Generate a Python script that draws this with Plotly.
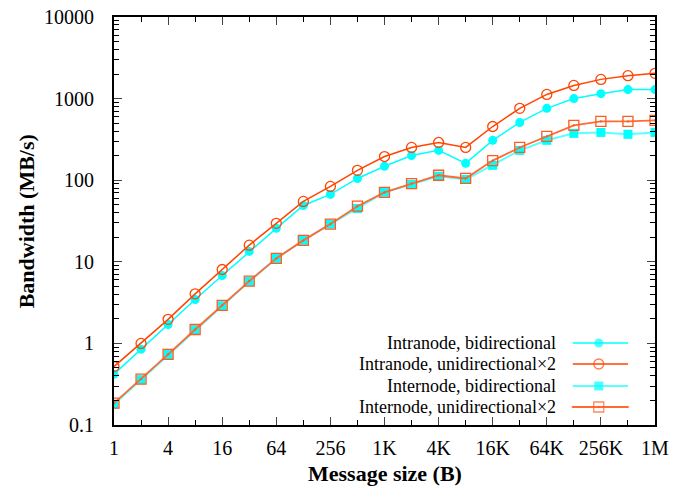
import plotly.graph_objects as go

# ---- data ----
sizes = [2 ** k for k in range(21)]
size_labels = ["1", "4", "16", "64", "256", "1K", "4K", "16K", "64K", "256K", "1M"]
label_sizes = [4 ** k for k in range(11)]

intra_bi = [0.42, 0.85, 1.7, 3.45, 6.8, 13.4, 25.7, 49, 67, 105, 148, 201, 232, 161,
            308, 510, 760, 1000, 1150, 1290, 1290]
intra_uni2 = [0.52, 1.0, 1.97, 4.05, 8.05, 16, 29.6, 55, 84, 132, 195, 252, 290, 252,
              455, 760, 1125, 1450, 1720, 1910, 2040]
inter_bi = [0.18, 0.36, 0.73, 1.47, 2.9, 5.75, 11, 18.3, 29, 45, 71, 89, 112, 102,
            152, 232, 308, 375, 385, 365, 385]
inter_uni2 = [0.185, 0.365, 0.735, 1.48, 2.92, 5.8, 11, 18.3, 29, 48, 71, 91, 115, 105,
              174, 252, 345, 470, 525, 525, 540]

names = ["Intranode, bidirectional", "Intranode, unidirectional\u00d72",
         "Internode, bidirectional", "Internode, unidirectional\u00d72"]
series = [intra_bi, intra_uni2, inter_bi, inter_uni2]

y_major = [0.1, 1, 10, 100, 1000, 10000]
y_major_text = ["0.1", "1", "10", "100", "1000", "10000"]

# ---- styles ----
styles = [
    dict(line=dict(color="#00FFFF", width=1.5),
         marker=dict(symbol="circle", size=9, color="#00FFFF")),
    dict(line=dict(color="#FF4500", width=1.5),
         marker=dict(symbol="circle-open", size=10, color="#FF4500", line=dict(width=1.3))),
    dict(line=dict(color="#5CFFFF", width=2),
         marker=dict(symbol="square", size=9, color="#00FFFF")),
    dict(line=dict(color="#FF6A33", width=1.8),
         marker=dict(symbol="square-open-dot", size=10, color="#FF5A1F", line=dict(width=1.3))),
]

FONT = "Liberation Serif"
fig = go.Figure()

for name, ys, st in zip(names, series, styles):
    fig.add_trace(go.Scatter(x=sizes, y=ys, mode="lines+markers", name=name,
                             line=st["line"], marker=st["marker"], showlegend=False))

# ---- custom legend (text left of sample, as in reference) ----
row_y = [0.201, 0.1495, 0.0956, 0.0441]
for name, ry, st in zip(names, row_y, styles):
    fig.add_trace(go.Scatter(x=[0.848, 0.896, 0.950], y=[ry, ry, ry], mode="lines+markers",
                             xaxis="x2", yaxis="y2", showlegend=False, hoverinfo="skip",
                             line=st["line"],
                             marker=dict(symbol=st["marker"]["symbol"],
                                         size=[0, st["marker"]["size"], 0],
                                         color=st["marker"]["color"],
                                         line=st["marker"].get("line", dict(width=0)))))
    fig.add_annotation(x=0.821, y=ry, xref="paper", yref="paper", text=name,
                       showarrow=False, xanchor="right", yanchor="middle",
                       font=dict(family=FONT, size=18, color="black"))

y_minor = [m * d for d in [0.1, 1, 10, 100, 1000] for m in range(2, 10)]

fig.update_layout(
    width=673, height=489,
    margin=dict(l=114, r=18, t=17, b=64, autoexpand=False),
    paper_bgcolor="white", plot_bgcolor="white",
    font=dict(family=FONT, size=20, color="black"),
    xaxis=dict(type="log", range=[0, 6.0206], tickmode="array", tickvals=label_sizes,
               ticktext=size_labels, ticks="inside", ticklen=8, tickwidth=1,
               showline=True, linecolor="black", linewidth=2, mirror="ticks",
               showgrid=False, zeroline=False, ticklabelstandoff=4, automargin=False,
               minor=dict(tickmode="array", tickvals=[2 ** k for k in range(1, 21, 2)],
                          ticks="inside", ticklen=5, tickcolor="black", showgrid=False)),
    yaxis=dict(type="log", range=[-1, 4], tickmode="array", tickvals=y_major,
               ticktext=y_major_text, ticks="inside", ticklen=8, tickwidth=1,
               showline=True, linecolor="black", linewidth=2, mirror="ticks",
               showgrid=False, zeroline=False, ticklabelstandoff=14, automargin=False,
               minor=dict(tickmode="array", tickvals=y_minor, ticks="inside",
                          ticklen=5, tickcolor="black", showgrid=False)),
    xaxis2=dict(overlaying="x", range=[0, 1], visible=False, fixedrange=True),
    yaxis2=dict(overlaying="y", range=[0, 1], visible=False, fixedrange=True),
)

fig.add_annotation(x=0.501, y=-0.118, xref="paper", yref="paper", text="<b>Message size (B)</b>",
                   showarrow=False, xanchor="center", yanchor="middle",
                   font=dict(family=FONT, size=22, color="black"))
fig.add_annotation(x=-0.162, y=0.5, xref="paper", yref="paper", text="<b>Bandwidth (MB/s)</b>",
                   showarrow=False, xanchor="center", yanchor="middle", textangle=-90,
                   font=dict(family=FONT, size=22, color="black"))

fig.write_html("out.html", config={"displayModeBar": False},
               post_script="document.body.style.margin='0';document.body.style.overflow='hidden';")
